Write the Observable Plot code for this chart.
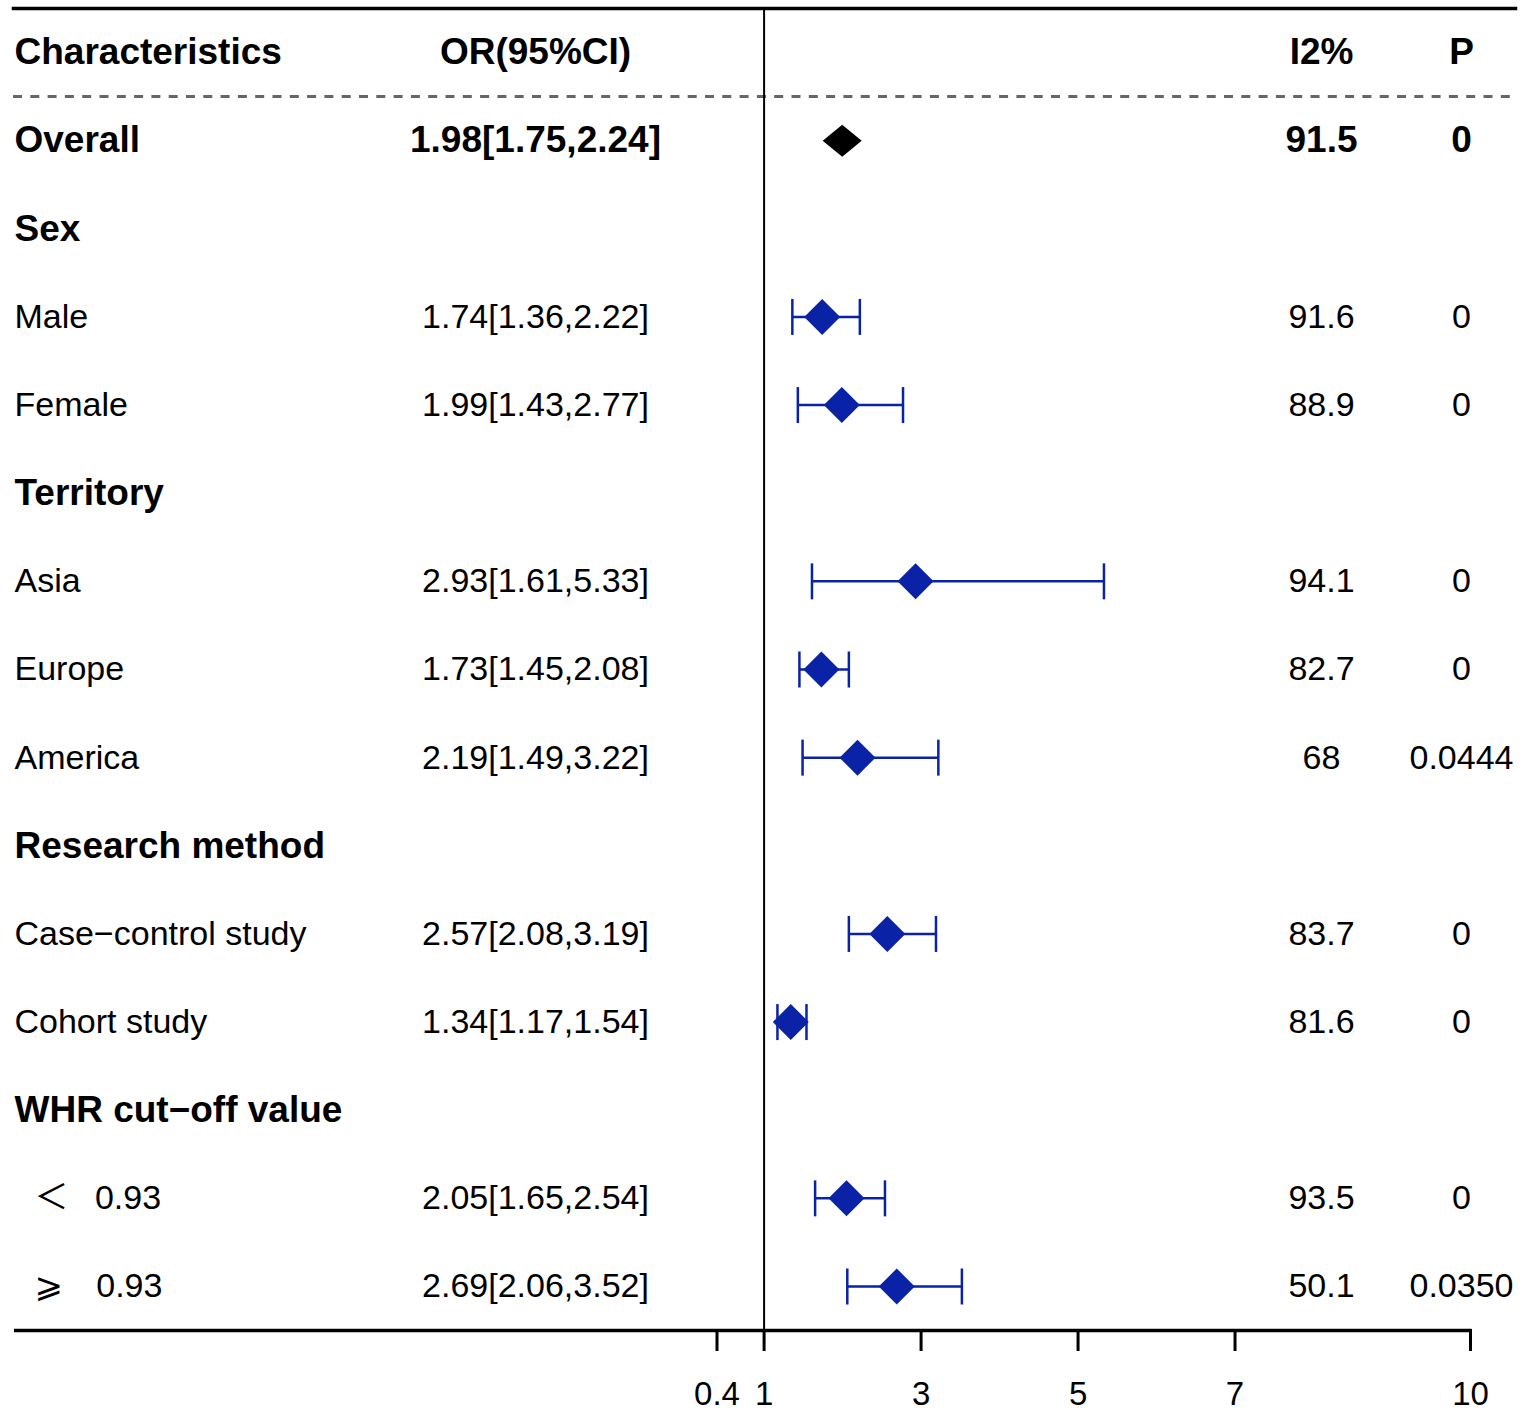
<!DOCTYPE html>
<html>
<head>
<meta charset="utf-8">
<script src="https://cdn.jsdelivr.net/npm/d3@7"></script>
<script src="https://cdn.jsdelivr.net/npm/@observablehq/plot@0.6"></script>
<style>
  html, body { margin: 0; padding: 0; background: #fff; }
  #chart svg { display: block; }
</style>
</head>
<body>
<div id="chart"></div>
<script>
// ---- data ----
const headers = ["Characteristics", "OR(95%CI)", "I2%", "P"];
const labels = ["Overall", "Sex", "Male", "Female", "Territory", "Asia", "Europe", "America",
  "Research method", "Case\u2212control study", "Cohort study", "WHR cut\u2212off value",
  "\uFF1C\u2002 0.93", "\u2A7E\u2002\u2009 0.93"];
const isGroup = [false, true, false, false, true, false, false, false, true, false, false, true, false, false];
const isSub = [false, false, false, false, false, false, false, false, false, false, false, false, true, true];
const orVals = [1.98, null, 1.74, 1.99, null, 2.93, 1.73, 2.19, null, 2.57, 1.34, null, 2.05, 2.69];
const lowerVals = [1.75, null, 1.36, 1.43, null, 1.61, 1.45, 1.49, null, 2.08, 1.17, null, 1.65, 2.06];
const upperVals = [2.24, null, 2.22, 2.77, null, 5.33, 2.08, 3.22, null, 3.19, 1.54, null, 2.54, 3.52];
const i2Vals = ["91.5", "", "91.6", "88.9", "", "94.1", "82.7", "68", "", "83.7", "81.6", "", "93.5", "50.1"];
const pVals = ["0", "", "0", "0", "", "0", "0", "0.0444", "", "0", "0", "", "0", "0.0350"];
const xTicks = [0.4, 1, 3, 5, 7, 10];

const rows = labels.map((label, i) => ({
  row: i + 1,
  label,
  group: isGroup[i],
  sub: isSub[i],
  summary: i === 0,
  or: orVals[i],
  lo: lowerVals[i],
  hi: upperVals[i],
  ci: orVals[i] == null ? "" : `${orVals[i].toFixed(2)}[${lowerVals[i].toFixed(2)},${upperVals[i].toFixed(2)}]`,
  i2: i2Vals[i],
  p: pVals[i]
}));
const est = rows.filter(d => d.or != null && !d.summary);
const summ = rows.filter(d => d.summary);

const blue = "#0a22a6";
const diamond = (hw, hh) => ({draw(ctx) { ctx.moveTo(-hw, 0); ctx.lineTo(0, -hh); ctx.lineTo(hw, 0); ctx.lineTo(0, hh); ctx.closePath(); }});
const cap = {draw(ctx) { ctx.moveTo(0, -18); ctx.lineTo(0, 18); }};

const RS = 34, BS = 37;
const colCI = 522, colI2 = 1308, colP = 1448;
const nRows = labels.length;
const W = 1525, ML = 13, MR = 10;
const xRange = [716.5, 1470];

const chart = Plot.plot({
  width: W,
  height: 1419,
  marginLeft: ML,
  marginRight: MR,
  marginTop: 8,
  marginBottom: 90,
  style: {fontFamily: "'Liberation Sans', Arial, 'DejaVu Sans', 'Noto Sans CJK SC', sans-serif", background: "#fff", color: "#000"},
  x: {type: "linear", domain: [0.4, 10], range: xRange},
  y: {type: "linear", domain: [0, nRows], range: [52, 1286], axis: null},
  marks: [
    Plot.frame({anchor: "top", stroke: "#000", strokeWidth: 3.5}),
    Plot.ruleY([0.5], {stroke: "#666", strokeWidth: 3, strokeDasharray: "9,8.3"}),
    Plot.ruleY([nRows + 0.5], {stroke: "#000", strokeWidth: 3.5, insetLeft: 1, insetRight: W - MR - xRange[1] - 1.5}),
    Plot.ruleX([1], {stroke: "#000", strokeWidth: 2}),
    Plot.axisX({ticks: xTicks, tickSize: 22, tickPadding: 30, fontSize: 33, strokeWidth: 3, tickFormat: d => String(d), label: null}),
    // header
    Plot.text([headers[0]], {text: d => d, y: 0, frameAnchor: "left", textAnchor: "start", dx: 1, fontSize: BS, fontWeight: "bold"}),
    Plot.text([headers[1]], {text: d => d, y: 0, frameAnchor: "left", textAnchor: "middle", dx: colCI, fontSize: BS, fontWeight: "bold"}),
    Plot.text([headers[2]], {text: d => d, y: 0, frameAnchor: "left", textAnchor: "middle", dx: colI2, fontSize: BS, fontWeight: "bold"}),
    Plot.text([headers[3]], {text: d => d, y: 0, frameAnchor: "left", textAnchor: "middle", dx: colP, fontSize: BS, fontWeight: "bold"}),
    // labels
    Plot.text(rows.filter(d => d.group || d.summary), {text: "label", y: "row", frameAnchor: "left", textAnchor: "start", dx: 1, fontSize: BS, fontWeight: "bold"}),
    Plot.text(rows.filter(d => !d.group && !d.summary && !d.sub), {text: "label", y: "row", frameAnchor: "left", textAnchor: "start", dx: 1, fontSize: RS}),
    Plot.text(rows.filter(d => d.sub), {text: "label", y: "row", frameAnchor: "left", textAnchor: "start", dx: 21, fontSize: RS}),
    // CI / I2 / P columns
    Plot.text(summ, {text: "ci", y: "row", frameAnchor: "left", textAnchor: "middle", dx: colCI, fontSize: BS, fontWeight: "bold"}),
    Plot.text(summ, {text: "i2", y: "row", frameAnchor: "left", textAnchor: "middle", dx: colI2, fontSize: BS, fontWeight: "bold"}),
    Plot.text(summ, {text: "p", y: "row", frameAnchor: "left", textAnchor: "middle", dx: colP, fontSize: BS, fontWeight: "bold"}),
    Plot.text(est, {text: "ci", y: "row", frameAnchor: "left", textAnchor: "middle", dx: colCI, fontSize: RS}),
    Plot.text(est, {text: "i2", y: "row", frameAnchor: "left", textAnchor: "middle", dx: colI2, fontSize: RS}),
    Plot.text(est, {text: "p", y: "row", frameAnchor: "left", textAnchor: "middle", dx: colP, fontSize: RS}),
    // error bars
    Plot.ruleY(est, {y: "row", x1: "lo", x2: "hi", stroke: blue, strokeWidth: 2.5}),
    Plot.dot(est, {x: "lo", y: "row", symbol: cap, stroke: blue, strokeWidth: 2.5, fill: "none"}),
    Plot.dot(est, {x: "hi", y: "row", symbol: cap, stroke: blue, strokeWidth: 2.5, fill: "none"}),
    Plot.dot(est, {x: "or", y: "row", symbol: diamond(18, 18), fill: blue, stroke: "none"}),
    Plot.dot(summ, {x: d => (d.lo + d.hi) / 2, y: "row", symbol: diamond(19.5, 16), fill: "#000", stroke: "none"})
  ]
});
document.getElementById("chart").append(chart);
</script>
</body>
</html>
